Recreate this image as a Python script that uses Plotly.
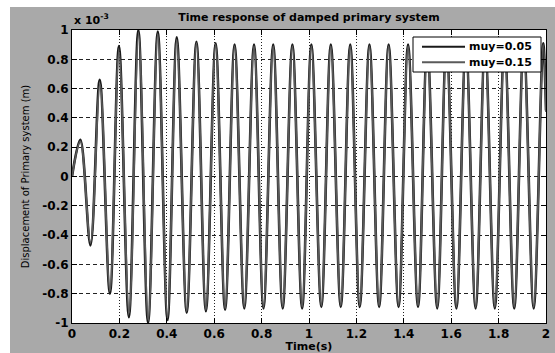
import plotly.graph_objects as go

# Time (s) of successive extremes
t_05 = [0.000, 0.035, 0.078, 0.117, 0.160, 0.198, 0.240, 0.280, 0.321, 0.362, 0.403,
        0.442, 0.484, 0.525, 0.565, 0.606, 0.646, 0.686, 0.727, 0.768, 0.808,
        0.849, 0.889, 0.930, 0.971, 1.010, 1.052, 1.092, 1.134, 1.174, 1.214,
        1.255, 1.296, 1.336, 1.378, 1.418, 1.460, 1.499, 1.541, 1.580, 1.622,
        1.662, 1.703, 1.743, 1.784, 1.825, 1.866, 1.906, 1.948, 1.988, 2.000]
# Displacement (x 1e-3 m), muy = 0.05
y_05 = [0.00, 0.25, -0.47, 0.66, -0.80, 0.89, -0.96, 1.00, -1.00, 0.99, -0.98,
        0.95, -0.93, 0.92, -0.92, 0.91, -0.91, 0.90, -0.90, 0.90, -0.90,
        0.90, -0.90, 0.90, -0.90, 0.90, -0.89, 0.90, -0.89, 0.90, -0.89,
        0.90, -0.89, 0.90, -0.89, 0.90, -0.89, 0.90, -0.90, 0.90, -0.90,
        0.90, -0.90, 0.90, -0.90, 0.90, -0.90, 0.90, -0.90, 0.91, 0.45]

t_15 = [0.000, 0.035, 0.078, 0.118, 0.160, 0.198, 0.241, 0.281, 0.322, 0.362, 0.403,
        0.442, 0.484, 0.525, 0.565, 0.606, 0.646, 0.686, 0.727, 0.768, 0.808,
        0.849, 0.889, 0.930, 0.971, 1.010, 1.052, 1.092, 1.134, 1.174, 1.214,
        1.255, 1.296, 1.336, 1.378, 1.418, 1.460, 1.499, 1.541, 1.580, 1.622,
        1.662, 1.703, 1.743, 1.784, 1.825, 1.866, 1.906, 1.948, 1.988, 2.000]
# Displacement (x 1e-3 m), muy = 0.15
y_15 = [0.00, 0.24, -0.45, 0.63, -0.78, 0.85, -0.93, 0.97, -0.98, 0.97, -0.96,
        0.93, -0.92, 0.91, -0.91, 0.90, -0.90, 0.89, -0.89, 0.89, -0.89,
        0.89, -0.89, 0.89, -0.89, 0.89, -0.88, 0.89, -0.88, 0.89, -0.88,
        0.89, -0.88, 0.89, -0.88, 0.89, -0.88, 0.89, -0.89, 0.89, -0.89,
        0.89, -0.89, 0.89, -0.89, 0.89, -0.89, 0.89, -0.89, 0.90, 0.44]

series_names = ["muy=0.05", "muy=0.15"]
series_colors = ["#1a1a1a", "#5a5a5a"]

x_tickvals = [0, 0.2, 0.4, 0.6, 0.8, 1.0, 1.2, 1.4, 1.6, 1.8, 2.0]
x_ticktext = ["0", "0.2", "0.4", "0.6", "0.8", "1", "1.2", "1.4", "1.6", "1.8", "2"]
y_tickvals = [1, 0.8, 0.6, 0.4, 0.2, 0, -0.2, -0.4, -0.6, -0.8, -1]
y_ticktext = ["1", "0.8", "0.6", "0.4", "0.2", "0", "-0.2", "-0.4", "-0.6", "-0.8", "-1"]

FB = dict(family="DejaVu Sans", size=11, color="black", weight="bold")
FT = dict(family="DejaVu Sans", size=12, color="black", weight="bold")


def px_x(p):  # pixel -> paper x
    return (p - 72) / 474.0


def px_y(p):  # pixel -> paper y
    return (323 - p) / 293.0


fig = go.Figure()
fig.add_trace(go.Scatter(x=t_05, y=y_05, mode="lines", name=series_names[0],
                         showlegend=False,
                         line=dict(color=series_colors[0], width=2.6, shape="spline")))
fig.add_trace(go.Scatter(x=t_15, y=y_15, mode="lines", name=series_names[1],
                         showlegend=False,
                         line=dict(color=series_colors[1], width=1.8, shape="spline")))

axis_common = dict(showline=True, linecolor="black", linewidth=1, mirror="allticks",
                   ticks="inside", ticklen=5, tickcolor="black", tickwidth=1,
                   showgrid=True, gridcolor="#222222", gridwidth=1,
                   zeroline=False, tickfont=FT, automargin=False)

fig.update_xaxes(range=[0, 2], tickvals=x_tickvals, ticktext=x_ticktext,
                 griddash="1px,2px",
                 title=dict(text="Time(s)", font=FB, standoff=1), **axis_common)
fig.update_yaxes(range=[-1, 1], tickvals=y_tickvals, ticktext=y_ticktext,
                 griddash="4px,3px",
                 title=dict(text="Displacement of Primary system (m)",
                            font=dict(family="DejaVu Sans", size=10, color="black"),
                            standoff=10), **axis_common)

# legend box (drawn as MATLAB-style legend)
shapes = [
    dict(type="rect", xref="paper", yref="paper", x0=px_x(-10), x1=px_x(10),
         y0=px_y(360), y1=px_y(-10), fillcolor="white", line=dict(width=0)),
    dict(type="rect", xref="paper", yref="paper", x0=px_x(-10), x1=px_x(565),
         y0=px_y(7), y1=px_y(-10), fillcolor="white", line=dict(width=0)),
    dict(type="rect", xref="paper", yref="paper", x0=px_x(413), x1=px_x(541),
         y0=px_y(72), y1=px_y(37), fillcolor="white", line=dict(color="black", width=1)),
]
annotations = [
    dict(text="x 10<sup>-3</sup>", xref="paper", yref="paper", x=0.0, y=1.0,
         xanchor="left", yanchor="bottom", showarrow=False, font=FB, yshift=1),
]
for i, (nm, col) in enumerate(zip(series_names, series_colors)):
    yy = px_y(46.7 + 15.6 * i)
    shapes.append(dict(type="line", xref="paper", yref="paper", x0=px_x(422), x1=px_x(465),
                       y0=yy, y1=yy, line=dict(color=col, width=2)))
    annotations.append(dict(text=nm, xref="paper", yref="paper", x=px_x(467), y=yy,
                            xanchor="left", yanchor="middle", showarrow=False, font=FB))

fig.update_layout(
    width=555, height=353,
    margin=dict(l=72, r=9, t=30, b=30),
    paper_bgcolor="#a9a9a9", plot_bgcolor="white",
    title=dict(text="Time response of damped primary system", font=FB,
               x=0.5, xref="paper", xanchor="center", y=0.952, yanchor="middle"),
    showlegend=False,
    shapes=shapes,
    annotations=annotations,
)

fig.write_html("out.html")
